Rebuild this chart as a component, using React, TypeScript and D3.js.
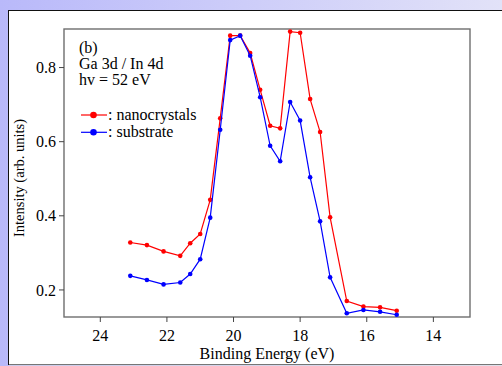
import React from 'react';
import * as d3 from 'd3';

// binding energies (eV), shared by both series
const energies = [
  23.1, 22.6, 22.1, 21.6, 21.3, 21.0, 20.7, 20.4, 20.1, 19.8, 19.5, 19.2,
  18.9, 18.6, 18.3, 18.0, 17.7, 17.4, 17.1, 16.6, 16.1, 15.6, 15.1,
];
const nanocrystals = [
  0.328, 0.321, 0.304, 0.292, 0.326, 0.351, 0.443, 0.663, 0.886, 0.886, 0.839, 0.74,
  0.643, 0.636, 0.897, 0.894, 0.715, 0.626, 0.396, 0.17, 0.155, 0.153, 0.144,
];
const substrate = [
  0.238, 0.227, 0.215, 0.22, 0.243, 0.283, 0.395, 0.632, 0.874, 0.886, 0.832, 0.72,
  0.589, 0.547, 0.707, 0.657, 0.504, 0.385, 0.234, 0.137, 0.146, 0.141, 0.133,
];
const xTicks = [24, 22, 20, 18, 16, 14];
const yTicks = [0.2, 0.4, 0.6, 0.8];
const annotation = ['(b)', 'Ga 3d / In 4d', 'hv = 52 eV'];
const seriesNames = [': nanocrystals', ': substrate'];

const W = 502;
const H = 366;
const left = 64, right = 470, top = 29, bottom = 317;
const font = '"Liberation Serif", "Times New Roman", serif';

const App = () => {
  const x = d3.scaleLinear().domain([25.09, 12.9]).range([left, right]);
  const y = d3.scaleLinear().domain([0.127, 0.904]).range([bottom, top]);
  const line = d3.line<number>()
    .x((_, i) => x(energies[i]))
    .y(d => y(d));

  const series = [
    { name: seriesNames[0], values: nanocrystals, color: '#ff0000' },
    { name: seriesNames[1], values: substrate, color: '#0000ff' },
  ];

  return (
    <svg width={W} height={H} style={{ position: 'fixed', left: 0, top: 0 }} fontFamily={font}>
      <defs>
        <linearGradient id="bg" x1="0" x2="1" y1="0" y2="0">
          <stop offset="0" stopColor="#b9b9fa" />
          <stop offset="1" stopColor="#e2e2f8" />
        </linearGradient>
      </defs>
      <rect width={W} height={H} fill="url(#bg)" />
      <rect x={8.5} y={10.5} width={W} height={354} fill="#fff" stroke="#111" strokeWidth={1} />
      <line x1={9} x2={W} y1={365} y2={365} stroke="#ddd" />

      {/* plot frame */}
      <rect x={left} y={top} width={right - left} height={bottom - top} fill="none" stroke="#6e6e6e" strokeWidth={1.4} />

      {xTicks.map(t => (
        <g key={t} transform={`translate(${x(t)},${bottom})`}>
          <line y2={5} stroke="#444" />
          <text y={23.5} textAnchor="middle" fontSize={16}>{t}</text>
        </g>
      ))}
      {yTicks.map(t => (
        <g key={t} transform={`translate(${left},${y(t)})`}>
          <line x2={-5} stroke="#444" />
          <text x={-8} dy="0.35em" textAnchor="end" fontSize={16}>{t.toFixed(1)}</text>
        </g>
      ))}
      <text x={(left + right) / 2} y={358.5} textAnchor="middle" fontSize={16}>Binding Energy (eV)</text>
      <text transform={`translate(24,${(top + bottom) / 2 + 5}) rotate(-90)`} textAnchor="middle" fontSize={14.5}>
        Intensity (arb. units)
      </text>

      {series.map(s => (
        <g key={s.name}>
          <path d={line(s.values) ?? ''} fill="none" stroke={s.color} strokeWidth={1.2} />
          {s.values.map((v, i) => (
            <circle key={i} cx={x(energies[i])} cy={y(v)} r={2.3} fill={s.color} />
          ))}
        </g>
      ))}

      {annotation.map((t, i) => (
        <text key={t} x={79} y={52.5 + i * 16} fontSize={16}>{t}</text>
      ))}
      {series.map((s, i) => (
        <g key={s.name} transform={`translate(0,${115 + i * 17.3})`}>
          <line x1={81} x2={107} stroke={s.color} strokeWidth={1.2} />
          <circle cx={93.5} r={3.3} fill={s.color} />
          <text x={108} y={4.5} fontSize={16}>{s.name}</text>
        </g>
      ))}
    </svg>
  );
};

export default App;
